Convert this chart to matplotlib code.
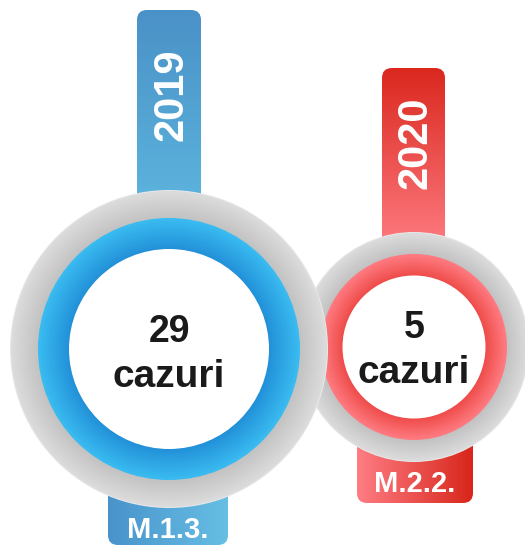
import numpy as np
import matplotlib
matplotlib.use("Agg")
import matplotlib.pyplot as plt
from matplotlib.patches import Circle, FancyBboxPatch
from matplotlib.colors import to_rgb

plt.rcParams['font.family'] = ['Liberation Sans', 'DejaVu Sans']

# data
years = ["2019", "2020"]
cases = [29, 5]
codes = ["M.1.3.", "M.2.2."]

# layout (pixels, y downwards)
cx = [169, 414]
cy = [349, 347]
r_grey = [158, 114]
r_ring = [131, 93]
r_white = [100, 71.5]
top_bar = [(137, 201, 10, 250), (382, 445, 68, 250)]
bottom_tab = [(108, 228, 430, 545), (357, 473, 430, 503)]

# colours
bar_cols = [("#4a91c7", "#60bce2"), ("#da281e", "#fe7c82")]
tab_cols = [("#4893cb", "#67bfe4"), ("#fe7d83", "#d8261b")]
ring_cols = [("#2290d8", "#3abcf1"), ("#ee4c4a", "#ff7c82")]
grey_cols = ("#c2c2c2", "#dcdcdc")

fig = plt.figure(figsize=(5.25, 5.46), dpi=100)
ax = fig.add_axes([0, 0, 1, 1])
ax.set_xlim(0, 525)
ax.set_ylim(546, 0)
ax.axis('off')


def grad_box(x0, x1, y0, y1, c0, c1, vertical, rounding, z):
    patch = FancyBboxPatch((x0, y0), x1 - x0, y1 - y0,
                           boxstyle="round,pad=0,rounding_size=%d" % rounding,
                           fc='none', ec='none', zorder=z)
    ax.add_patch(patch)
    t = np.linspace(0, 1, 256)
    a, b = np.array(to_rgb(c0)), np.array(to_rgb(c1))
    cols = a[None, :] * (1 - t[:, None]) + b[None, :] * t[:, None]
    if vertical:
        img = cols[:, None, :]
    else:
        img = cols[None, :, :]
    im = ax.imshow(img, extent=(x0, x1, y1, y0), origin='upper',
                   aspect='auto', zorder=z, interpolation='bilinear')
    im.set_clip_path(patch)


def radial_ring(x, y, r_out, r_in, c_in, c_out, z, n=40):
    a, b = np.array(to_rgb(c_in)), np.array(to_rgb(c_out))
    for r in np.linspace(r_out, r_in, n):
        t = (r - r_in) / (r_out - r_in)
        ax.add_patch(Circle((x, y), r, fc=a * (1 - t) + b * t, ec='none', zorder=z))


# red first, blue drawn on top
for i in [1, 0]:
    base = 10 if i == 1 else 20
    x0, x1, y0, y1 = top_bar[i]
    grad_box(x0, x1, y0, y1, bar_cols[i][0], bar_cols[i][1], True, 10, base)
    x0, x1, y0, y1 = bottom_tab[i]
    grad_box(x0, x1, y0, y1, tab_cols[i][0], tab_cols[i][1], False, 10, base)
    ax.add_patch(Circle((cx[i], cy[i]), r_grey[i] + 1, fc='#e8e8e8', ec='none', zorder=base + 1))
    radial_ring(cx[i], cy[i], r_grey[i], r_ring[i], grey_cols[0], grey_cols[1], base + 1)
    radial_ring(cx[i], cy[i], r_ring[i], r_white[i], ring_cols[i][0], ring_cols[i][1], base + 2)
    ax.add_patch(Circle((cx[i], cy[i]), r_white[i], fc='white', ec='none', zorder=base + 3))

    bx = (top_bar[i][0] + top_bar[i][1]) / 2
    ax.text(bx + 13, [95, 143][i], years[i], rotation=90, rotation_mode='anchor',
            ha='center', va='baseline', color='white', fontsize=30,
            fontweight='bold', zorder=base + 4)
    ax.text(cx[i], cy[i] - [7, 9][i], str(cases[i]), ha='center', va='baseline',
            color='#1a1a1a', fontsize=27, fontweight='bold', zorder=base + 4)
    ax.text(cx[i], cy[i] + [38, 36][i], "cazuri", ha='center', va='baseline',
            color='#1a1a1a', fontsize=28, fontweight='bold', zorder=base + 4)
    tx = (bottom_tab[i][0] + bottom_tab[i][1]) / 2
    ax.text(tx, [538, 492][i], codes[i], ha='center', va='baseline',
            color='white', fontsize=21, fontweight='bold', zorder=base + 4)

fig.savefig("out.png", dpi=100)
